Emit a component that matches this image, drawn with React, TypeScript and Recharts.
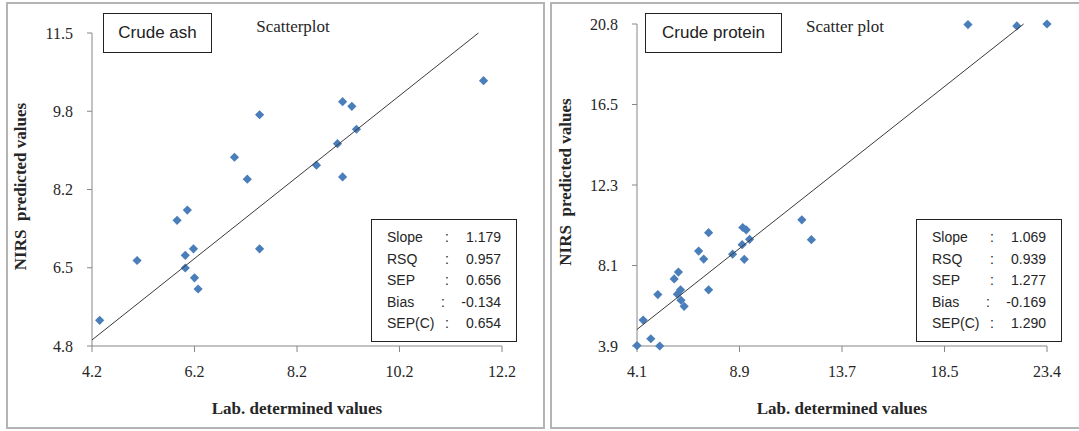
import React from 'react';
import { ScatterChart, Scatter, XAxis, YAxis, Label } from 'recharts';

// ---------- data ----------
const ashLab = [11.84, 9.09, 9.27, 7.47, 9.36, 8.99, 6.98, 8.58, 7.23, 9.09, 6.06, 5.86, 6.18, 7.47, 5.08, 6.02, 6.02, 6.2, 6.27, 4.35];
const ashNirs = [10.48, 10.03, 9.93, 9.75, 9.44, 9.13, 8.84, 8.67, 8.37, 8.42, 7.71, 7.49, 6.88, 6.88, 6.63, 6.74, 6.47, 6.26, 6.02, 5.35];
const ashFitLab = [4.2, 11.74];
const ashFitNirs = [4.93, 11.5];

const proteinLab = [4.1, 5.17, 4.75, 4.39, 5.08, 5.85, 6.05, 6.0, 6.15, 6.17, 6.32, 7.47, 7.0, 7.24, 7.47, 8.6, 9.05, 9.15, 9.08, 9.24, 9.4, 11.86, 12.31, 19.68, 21.98, 23.4];
const proteinNirs = [3.92, 3.9, 4.28, 5.26, 6.6, 7.42, 7.78, 6.62, 6.85, 6.3, 5.98, 6.85, 8.88, 8.46, 9.85, 8.72, 9.22, 8.45, 10.12, 10.0, 9.5, 10.52, 9.48, 20.77, 20.7, 20.8];
const proteinFitLab = [4.1, 22.3];
const proteinFitNirs = [4.77, 20.8];

const ashXTicks = ['4.2', '6.2', '8.2', '10.2', '12.2'];
const ashYTicks = ['4.8', '6.5', '8.2', '9.8', '11.5'];
const proteinXTicks = ['4.1', '8.9', '13.7', '18.5', '23.4'];
const proteinYTicks = ['3.9', '8.1', '12.3', '16.5', '20.8'];

const statNames = ['Slope', 'RSQ', 'SEP', 'Bias', 'SEP(C)'];
const ashStats = ['1.179', '0.957', '0.656', '-0.134', '0.654'];
const proteinStats = ['1.069', '0.939', '1.277', '-0.169', '1.290'];

// ---------- styling ----------
const MARKER = '#4A7EBB';
const AXIS = '#868686';
const SERIF = "'Liberation Serif', 'Times New Roman', serif";
const SANS = "'Liberation Sans', Arial, sans-serif";

const Diamond = (props: any) => {
  const { cx, cy } = props;
  if (cx == null || cy == null) return <g />;
  const r = 4.6;
  return <polygon points={`${cx},${cy - r} ${cx + r},${cy} ${cx},${cy + r} ${cx - r},${cy}`} fill={MARKER} />;
};

const NoShape = () => <g />;

function evenTicks(labels: string[]) {
  const lo = Number(labels[0]);
  const hi = Number(labels[labels.length - 1]);
  const n = labels.length - 1;
  return labels.map((_, i) => lo + (i * (hi - lo)) / n);
}

function labelFor(labels: string[], ticks: number[]) {
  return (v: number) => {
    const i = ticks.findIndex((t) => Math.abs(t - v) < 1e-6);
    return i >= 0 ? labels[i] : '';
  };
}

type PanelProps = {
  offsetX: number;
  width: number;
  plotTop: number;
  title: string;
  titleBox: [number, number];
  heading: string;
  headingX: number;
  lab: number[];
  nirs: number[];
  fitLab: number[];
  fitNirs: number[];
  xLabels: string[];
  yLabels: string[];
  stats: string[];
};

const PLOT_LEFT = 92;
const PLOT_RIGHT = 502;
const PLOT_BOTTOM = 346;
const H = 431;

function Panel(p: PanelProps) {
  const points = p.lab.map((x, i) => ({ x, y: p.nirs[i] }));
  const fit = p.fitLab.map((x, i) => ({ x, y: p.fitNirs[i] }));
  const xt = evenTicks(p.xLabels);
  const yt = evenTicks(p.yLabels);
  const xDom = [xt[0], xt[xt.length - 1]];
  const yDom = [yt[0], yt[yt.length - 1]];
  const yAxisW = 80;
  const xAxisH = 70;

  const statsLeft = 371;
  const statsRight = 517;
  const statsTop = 219;
  const statsBottom = 342;
  const rowY = [237, 258.5, 280, 302, 323];

  return (
    <div style={{ position: 'absolute', left: p.offsetX, top: 0, width: p.width, height: H }}>
      <ScatterChart
        width={p.width}
        height={H}
        margin={{ top: p.plotTop, right: p.width - PLOT_RIGHT, bottom: H - PLOT_BOTTOM - xAxisH, left: PLOT_LEFT - yAxisW }}
      >
        <XAxis
          type="number"
          dataKey="x"
          domain={xDom}
          ticks={xt}
          interval={0}
          tickFormatter={labelFor(p.xLabels, xt)}
          height={xAxisH}
          axisLine={{ stroke: AXIS }}
          tickLine={{ stroke: AXIS }}
          tickSize={6}
          tickMargin={14}
          tick={{ fill: '#262626', fontFamily: SERIF, fontSize: 16 }}
        >
          <Label
            content={(lp: any) => {
              const vb = lp.viewBox || {};
              return (
                <text
                  x={vb.x + vb.width / 2}
                  y={vb.y + 62}
                  textAnchor="middle"
                  dominantBaseline="central"
                  fontFamily={SERIF}
                  fontWeight="bold"
                  fontSize={17}
                  fill="#262626"
                >
                  Lab. determined values
                </text>
              );
            }}
          />
        </XAxis>
        <YAxis
          type="number"
          dataKey="y"
          domain={yDom}
          ticks={yt}
          interval={0}
          tickFormatter={labelFor(p.yLabels, yt)}
          width={yAxisW}
          axisLine={{ stroke: AXIS }}
          tickLine={{ stroke: AXIS }}
          tickSize={5}
          tickMargin={14}
          tick={{ fill: '#262626', fontFamily: SERIF, fontSize: 16 }}
        >
          <Label
            content={(lp: any) => {
              const vb = lp.viewBox || {};
              const x = vb.x + 8;
              const y = vb.y + vb.height / 2 - 3;
              return (
                <text
                  x={x}
                  y={y}
                  transform={`rotate(-90 ${x} ${y})`}
                  textAnchor="middle"
                  dominantBaseline="central"
                  fontFamily={SERIF}
                  fontWeight="bold"
                  fontSize={17}
                  fill="#262626"
                  style={{ whiteSpace: 'pre' }}
                >
                  {'NIRS  predicted values'}
                </text>
              );
            }}
          />
        </YAxis>
        <Scatter data={points} shape={Diamond} isAnimationActive={false} />
        <Scatter data={fit} shape={NoShape} line={{ stroke: '#3a3a3a', strokeWidth: 1 }} isAnimationActive={false} />
      </ScatterChart>

      {/* title box */}
      <div
        style={{
          position: 'absolute',
          left: p.titleBox[0],
          top: 13,
          width: p.titleBox[1] - p.titleBox[0],
          height: 40,
          boxSizing: 'border-box',
          border: '1.5px solid #222',
          background: '#fff',
          fontFamily: SANS,
          fontSize: 17,
          color: '#222',
          display: 'flex',
          alignItems: 'center',
          justifyContent: 'center',
        }}
      >
        {p.title}
      </div>

      {/* heading */}
      <div
        style={{
          position: 'absolute',
          left: p.headingX - 60,
          width: 120,
          top: 16,
          textAlign: 'center',
          fontFamily: SERIF,
          fontSize: 17,
          lineHeight: '22px',
          color: '#262626',
          whiteSpace: 'pre',
        }}
      >
        {p.heading}
      </div>

      {/* statistics box */}
      <div
        style={{
          position: 'absolute',
          left: statsLeft,
          top: statsTop,
          width: statsRight - statsLeft,
          height: statsBottom - statsTop,
          boxSizing: 'border-box',
          border: '1.5px solid #222',
          background: '#fff',
        }}
      />
      {statNames.map((name, i) => (
        <div
          key={name}
          style={{
            position: 'absolute',
            left: statsLeft,
            top: rowY[i] - 10,
            width: statsRight - statsLeft,
            height: 20,
            lineHeight: '20px',
            fontFamily: SANS,
            fontSize: 14,
            color: '#262626',
          }}
        >
          <span style={{ position: 'absolute', left: 16 }}>{name}</span>
          <span style={{ position: 'absolute', left: i === 3 ? 70 : 74 }}>:</span>
          <span style={{ position: 'absolute', right: 16 }}>{p.stats[i]}</span>
        </div>
      ))}
    </div>
  );
}

export default function App() {
  return (
    <div
      style={{
        position: 'absolute',
        left: 0,
        top: 0,
        width: 1079,
        height: 431,
        overflow: 'hidden',
        background: '#fff',
      }}
    >
      <div
        style={{
          position: 'absolute',
          left: 6,
          top: 2,
          width: 539,
          height: 427,
          boxSizing: 'border-box',
          border: '2px solid #b4b4b4',
        }}
      />
      <div
        style={{
          position: 'absolute',
          left: 550,
          top: 2,
          width: 600,
          height: 427,
          boxSizing: 'border-box',
          border: '2px solid #b4b4b4',
        }}
      />
      <Panel
        offsetX={0}
        width={544}
        plotTop={33}
        title="Crude ash"
        titleBox={[103, 212]}
        heading="Scatterplot"
        headingX={293}
        lab={ashLab}
        nirs={ashNirs}
        fitLab={ashFitLab}
        fitNirs={ashFitNirs}
        xLabels={ashXTicks}
        yLabels={ashYTicks}
        stats={ashStats}
      />
      <Panel
        offsetX={545}
        width={534}
        plotTop={24}
        title="Crude protein"
        titleBox={[100, 237]}
        heading="Scatter plot"
        headingX={300}
        lab={proteinLab}
        nirs={proteinNirs}
        fitLab={proteinFitLab}
        fitNirs={proteinFitNirs}
        xLabels={proteinXTicks}
        yLabels={proteinYTicks}
        stats={proteinStats}
      />
    </div>
  );
}
